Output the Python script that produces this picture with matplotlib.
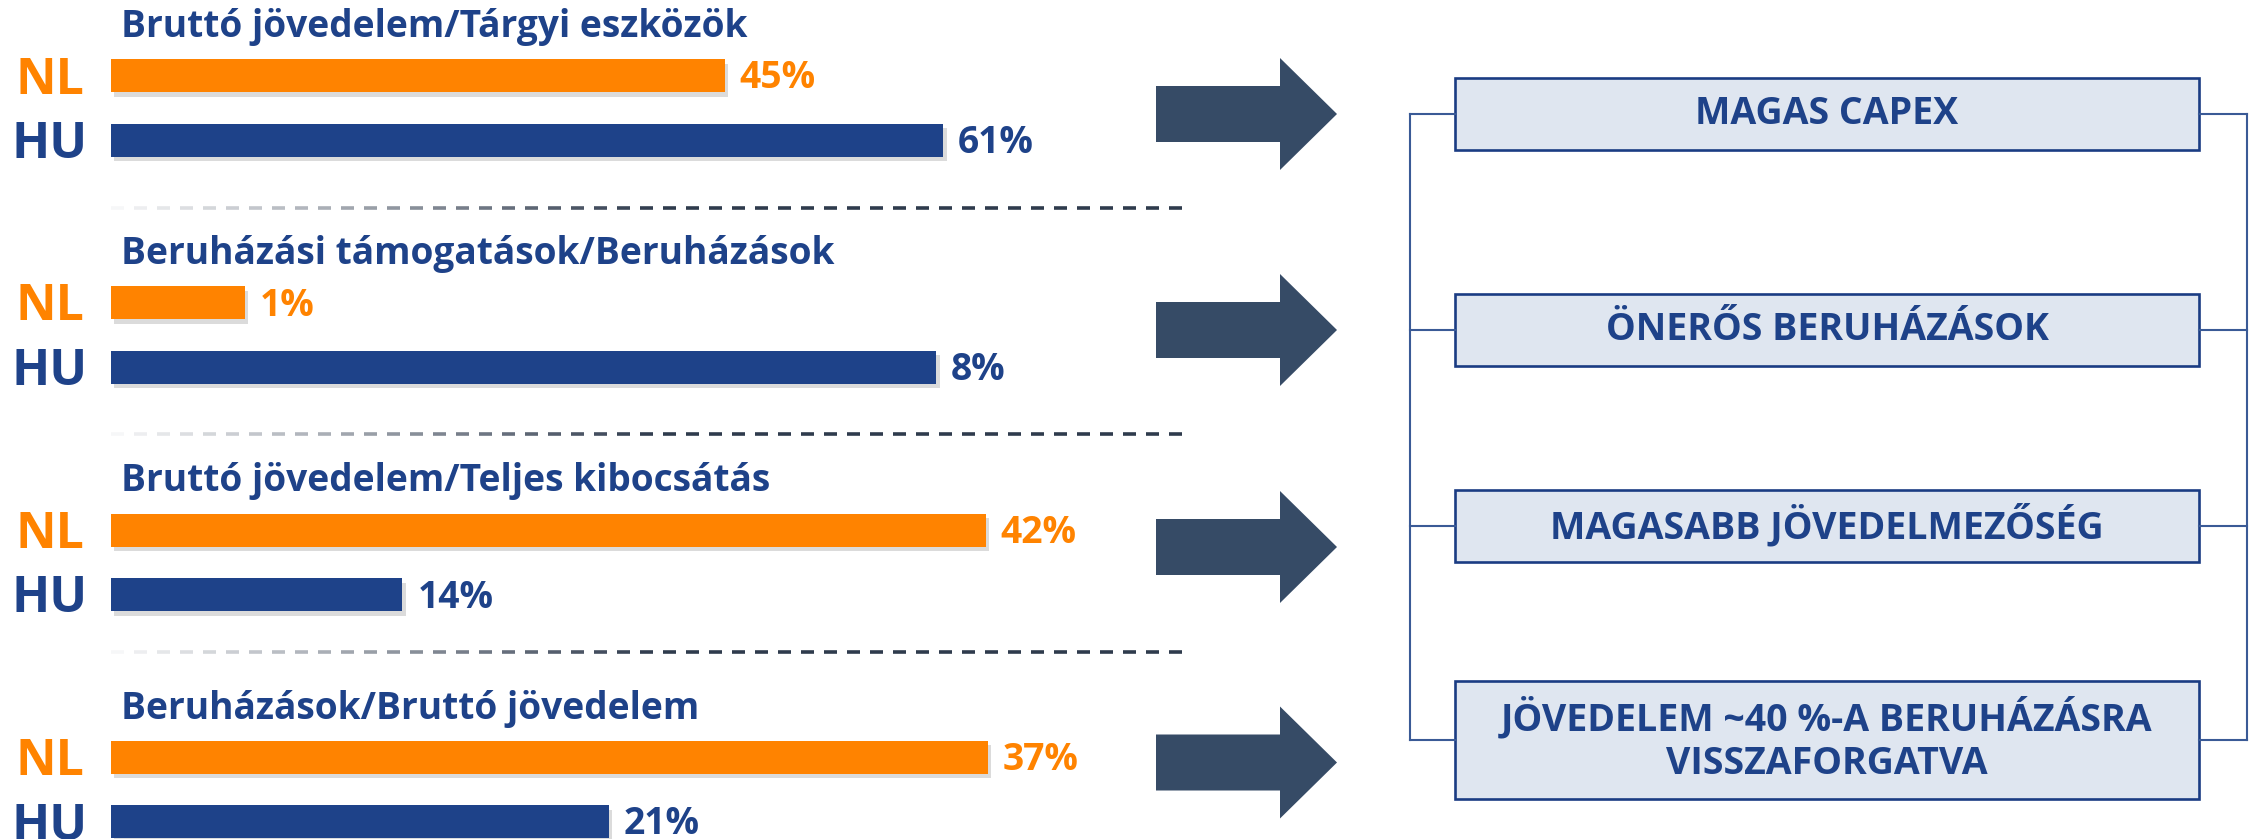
import numpy as np
import matplotlib
matplotlib.use("Agg")
import matplotlib.pyplot as plt
from matplotlib.patches import Rectangle, Polygon
import matplotlib.patheffects as pe

plt.rcParams['font.family'] = ['Open Sans', 'DejaVu Sans']

# ---------------- data ----------------
group_titles = [
    "Bruttó jövedelem/Tárgyi eszközök",
    "Beruházási támogatások/Beruházások",
    "Bruttó jövedelem/Teljes kibocsátás",
    "Beruházások/Bruttó jövedelem",
]
countries = ["NL", "HU"]
nl_values = [45, 1.3, 42, 37]
hu_values = [61, 8, 14, 21]
# each panel uses its own horizontal scale (axis maximum, %)
group_xmax = [80.6, 10.66, 52.8, 46.4]
conclusions = [
    "MAGAS CAPEX",
    "ÖNERŐS BERUHÁZÁSOK",
    "MAGASABB JÖVEDELMEZŐSÉG",
    "JÖVEDELEM ~40 %-A BERUHÁZÁSRA\nVISSZAFORGATVA",
]

# ---------------- style ----------------
ORANGE = "#FF8300"
BLUE = "#1E4289"
ARROW = "#364B66"
BOXFILL = "#DFE6F0"
BOXEDGE = "#1A3C83"
LINE = "#3A5A96"
DASH = "#2F3B4D"

W, H = 2255, 839
fig = plt.figure(figsize=(W / 100, H / 100), dpi=100)

ax0 = fig.add_axes([0, 0, 1, 1])
ax0.set_xlim(0, W)
ax0.set_ylim(H, 0)
ax0.axis("off")

nl_centers = [75.5, 302.5, 530, 757]
pair_gap = 64.5
bar_x0 = 110.7
bar_w = 1100

for i in range(4):
    c = nl_centers[i]
    top_px = c - pair_gap / 2
    bot_px = c + pair_gap + pair_gap / 2
    ax = fig.add_axes([bar_x0 / W, 1 - bot_px / H, bar_w / W, (bot_px - top_px) / H])
    ax.set_xlim(0, group_xmax[i])
    ax.set_ylim(1.5, -0.5)
    ax.axis("off")
    vals = [nl_values[i], hu_values[i]]
    cols = [ORANGE, BLUE]
    bars = ax.barh([0, 1], vals, height=33 / pair_gap, color=cols)
    for b in bars:
        b.set_path_effects([pe.SimplePatchShadow(offset=(2.5, -3.5), shadow_rgbFace="#8a8a8a", alpha=0.3),
                            pe.Normal()])
    for j, (v, col) in enumerate(zip(vals, cols)):
        ax.annotate(f"{round(v)}%", xy=(v, j), xytext=(15, -13), textcoords="offset pixels",
                    ha="left", va="baseline", fontsize=26.8, fontweight="bold", color=col)
    # titles and country labels
    ax0.text(121, c - 38.5, group_titles[i], ha="left", va="baseline", fontsize=26.7,
             fontweight="bold", color=BLUE)
    for j, (lab, col) in enumerate(zip(countries, cols)):
        ax0.text(50, c + j * pair_gap + 18, lab, ha="center", va="baseline", fontsize=36,
                 fontweight="bold", color=col)

# dashed separators with fade-in on the left
for y in [208, 434, 652]:
    xs = np.arange(111, 1186, 23)
    for x in xs:
        a = min(1.0, 0.04 + (x - 111) / 560)
        ax0.plot([x, min(x + 13, 1186)], [y, y], color=DASH, lw=2.6, alpha=a,
                 solid_capstyle="butt")

# arrows
arrow_centers = [114, 330, 547, 762.5]
for cy in arrow_centers:
    pts = [(1156, cy - 28), (1280, cy - 28), (1280, cy - 56), (1337, cy),
           (1280, cy + 56), (1280, cy + 28), (1156, cy + 28)]
    ax0.add_patch(Polygon(pts, closed=True, fc=ARROW, ec="none"))

# connector brackets
box_centers = [114, 330, 526, 740]
box_heights = [72, 72, 72, 118]
bx0, bx1 = 1455, 2199
lx, rx = 1409.5, 2247
ax0.plot([lx, lx], [box_centers[0], box_centers[-1]], color=LINE, lw=1.5)
ax0.plot([rx, rx], [box_centers[0], box_centers[-1]], color=LINE, lw=1.5)
for cy in box_centers:
    ax0.plot([lx, bx0], [cy, cy], color=LINE, lw=1.5)
    ax0.plot([bx1, rx], [cy, cy], color=LINE, lw=1.5)

for cy, h, txt in zip(box_centers, box_heights, conclusions):
    ax0.add_patch(Rectangle((bx0, cy - h / 2), bx1 - bx0, h, fc=BOXFILL, ec=BOXEDGE, lw=1.9))
    ax0.text((bx0 + bx1) / 2, cy, txt, ha="center", va="center", fontsize=27,
             fontweight="bold", color=BLUE, linespacing=1.2)

fig.savefig("out.png", dpi=100)
